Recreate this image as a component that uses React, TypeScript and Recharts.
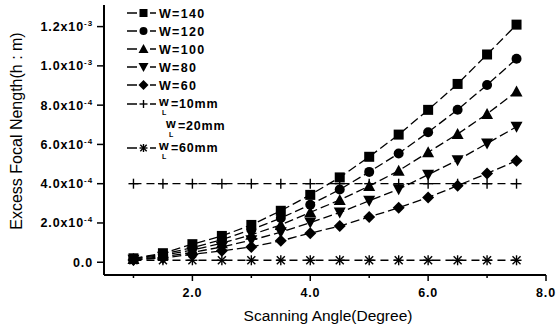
import React from 'react';
import { LineChart, Line, XAxis, YAxis } from 'recharts';

// scanning angle (degree)
const angles = [1, 1.5, 2, 2.5, 3, 3.5, 4, 4.5, 5, 5.5, 6, 6.5, 7, 7.5];

// excess focal length, in units of 1e-4
const w140 = [0.2, 0.46, 0.92, 1.34, 1.9, 2.62, 3.43, 4.32, 5.37, 6.5, 7.76, 9.08, 10.58, 12.1];
const w120 = [0.18, 0.41, 0.74, 1.15, 1.66, 2.25, 2.93, 3.7, 4.6, 5.54, 6.62, 7.77, 9.03, 10.36];
const w100 = [0.16, 0.35, 0.62, 0.97, 1.4, 1.9, 2.54, 3.17, 3.88, 4.66, 5.6, 6.53, 7.55, 8.7];
const w80 = [0.13, 0.28, 0.5, 0.78, 1.12, 1.53, 2.02, 2.53, 3.13, 3.72, 4.46, 5.2, 6.05, 6.9];
const w60 = [0.12, 0.22, 0.4, 0.58, 0.78, 1.09, 1.48, 1.84, 2.31, 2.77, 3.3, 3.9, 4.52, 5.17];
const wl10 = [4, 4, 4, 4, 4, 4, 4, 4, 4, 4, 4, 4, 4, 4];
const wl60 = [0.1, 0.1, 0.1, 0.1, 0.1, 0.1, 0.1, 0.1, 0.1, 0.1, 0.1, 0.1, 0.1, 0.1];

const xTicks = [1, 2, 3, 4, 5, 6, 7, 8];
const xTickLabels: Record<number, string> = { 2: '2.0', 4: '4.0', 6: '6.0', 8: '8.0' };
const yTicks = [0, 1, 2, 3, 4, 5, 6, 7, 8, 9, 10, 11, 12];
// mantissa, exponent
const yTickLabels: Record<number, [string, string]> = {
  0: ['0.0', ''],
  2: ['2.0x10', '-4'],
  4: ['4.0x10', '-4'],
  6: ['6.0x10', '-4'],
  8: ['8.0x10', '-4'],
  10: ['1.0x10', '-3'],
  12: ['1.2x10', '-3'],
};

const data = angles.map((x, i) => ({
  x,
  w140: w140[i],
  w120: w120[i],
  w100: w100[i],
  w80: w80[i],
  w60: w60[i],
  wl10: wl10[i],
  wl60: wl60[i],
}));

type Shape = 'square' | 'circle' | 'up' | 'down' | 'diamond' | 'plus' | 'star' | 'none';

const Marker = ({ cx, cy, shape, s = 5 }: { cx: number; cy: number; shape: Shape; s?: number }) => {
  switch (shape) {
    case 'square':
      return <rect x={cx - s} y={cy - s} width={2 * s} height={2 * s} fill="#000" />;
    case 'circle':
      return <circle cx={cx} cy={cy} r={s} fill="#000" />;
    case 'up':
      return <polygon points={`${cx},${cy - s - 1} ${cx + s + 1},${cy + s} ${cx - s - 1},${cy + s}`} fill="#000" />;
    case 'down':
      return <polygon points={`${cx},${cy + s + 1} ${cx + s + 1},${cy - s} ${cx - s - 1},${cy - s}`} fill="#000" />;
    case 'diamond':
      return <polygon points={`${cx},${cy - s - 1} ${cx + s + 1},${cy} ${cx},${cy + s + 1} ${cx - s - 1},${cy}`} fill="#000" />;
    case 'plus':
      return (
        <g stroke="#000" strokeWidth={1.4}>
          <line x1={cx - s} y1={cy} x2={cx + s} y2={cy} />
          <line x1={cx} y1={cy - s} x2={cx} y2={cy + s} />
        </g>
      );
    case 'star':
      return (
        <g stroke="#000" strokeWidth={1.4}>
          <line x1={cx - s} y1={cy} x2={cx + s} y2={cy} />
          <line x1={cx} y1={cy - s} x2={cx} y2={cy + s} />
          <line x1={cx - s * 0.8} y1={cy - s * 0.8} x2={cx + s * 0.8} y2={cy + s * 0.8} />
          <line x1={cx - s * 0.8} y1={cy + s * 0.8} x2={cx + s * 0.8} y2={cy - s * 0.8} />
        </g>
      );
    default:
      return null;
  }
};

const dotFor = (shape: Shape) => (props: any) => (
  <g key={`${shape}-${props.index}`}>
    <Marker cx={props.cx} cy={props.cy} shape={shape} />
  </g>
);

const XTick = ({ x, y, payload }: any) => {
  const v = payload.value;
  const label = xTickLabels[v];
  return (
    <g>
      <line x1={x} y1={y} x2={x} y2={y + (label ? 6 : 3)} stroke="#000" strokeWidth={1.5} />
      {label && (
        <text x={x} y={y + 22} textAnchor="middle" fontSize={12.5} fontWeight="bold" fill="#000" letterSpacing={0.8}>
          {label}
        </text>
      )}
    </g>
  );
};

const YTick = ({ x, y, payload }: any) => {
  const v = payload.value;
  const label = yTickLabels[v];
  return (
    <g>
      <line x1={x} y1={y} x2={x - (label ? 7 : 3)} y2={y} stroke="#000" strokeWidth={1.5} />
      {label && (
        <text x={x - 11} y={y + 4.5} textAnchor="end" fontSize={12.5} fontWeight="bold" fill="#000" letterSpacing={0.9}>
          {label[0]}
          {label[1] && (
            <tspan fontSize={8} dy={-5}>
              {label[1]}
            </tspan>
          )}
        </text>
      )}
    </g>
  );
};

const legendRows: { y: number; shape: Shape; name: string; sub?: string; rest?: string; line: boolean; textX?: number }[] = [
  { y: 13, shape: 'square', name: 'W=140', line: true },
  { y: 31, shape: 'circle', name: 'W=120', line: true },
  { y: 49, shape: 'up', name: 'W=100', line: true },
  { y: 67, shape: 'down', name: 'W=80', line: true },
  { y: 85, shape: 'diamond', name: 'W=60', line: true },
  { y: 104, shape: 'plus', name: 'w', sub: 'L', rest: '=10mm', line: true },
  { y: 126, shape: 'none', name: 'w', sub: 'L', rest: '=20mm', line: false, textX: 166 },
  { y: 148, shape: 'star', name: 'w', sub: 'L', rest: '=60mm', line: true },
];

const LegendBox = () => (
  <g>
    {legendRows.map((r, i) => (
      <g key={i}>
        {r.line && (
          <g stroke="#000" strokeWidth={1.5}>
            <line x1={127} y1={r.y} x2={137} y2={r.y} />
            <line x1={150} y1={r.y} x2={156} y2={r.y} />
          </g>
        )}
        <Marker cx={143.5} cy={r.y} shape={r.shape} s={4} />
        {r.sub ? (
          <g fontSize={12.5} fontWeight="bold" fill="#000">
            <text x={r.textX ?? 159} y={r.y + 2}>{r.name}</text>
            <text x={(r.textX ?? 159) + 3} y={r.y + 11} fontSize={7}>{r.sub}</text>
            <text x={(r.textX ?? 159) + 12} y={r.y + 4} letterSpacing={0.8}>{r.rest}</text>
          </g>
        ) : (
          <text x={159} y={r.y + 4.5} fontSize={12.5} fontWeight="bold" fill="#000" letterSpacing={1.3}>
            {r.name}
          </text>
        )}
      </g>
    ))}
  </g>
);

const series: { key: string; shape: Shape; dash: string }[] = [
  { key: 'w140', shape: 'square', dash: '9 4' },
  { key: 'w120', shape: 'circle', dash: '9 4' },
  { key: 'w100', shape: 'up', dash: '9 4' },
  { key: 'w80', shape: 'down', dash: '9 4' },
  { key: 'w60', shape: 'diamond', dash: '9 4' },
  { key: 'wl10', shape: 'plus', dash: '8 5' },
  { key: 'wl60', shape: 'star', dash: '8 5' },
];

export default function App() {
  return (
    <div style={{ position: 'absolute', left: 0, top: 0, fontFamily: '"Liberation Sans", Arial, sans-serif' }}>
      <LineChart width={556} height={326} data={data} margin={{ top: 5, right: 10, left: 0, bottom: 0 }}>
        <XAxis
          type="number"
          dataKey="x"
          domain={[0.5, 8]}
          ticks={xTicks}
          tick={<XTick />}
          tickLine={false}
          tickSize={0}
          tickMargin={0}
          height={51}
          axisLine={{ stroke: '#000', strokeWidth: 2 }}
          allowDataOverflow
        />
        <YAxis
          type="number"
          domain={[-0.65, 13.1]}
          ticks={yTicks}
          tick={<YTick />}
          tickLine={false}
          tickSize={0}
          tickMargin={0}
          width={104}
          axisLine={{ stroke: '#000', strokeWidth: 2 }}
          allowDataOverflow
        />
        {series.map(s => (
          <Line
            key={s.key}
            dataKey={s.key}
            stroke="#000"
            strokeWidth={1.3}
            strokeDasharray={s.dash}
            dot={dotFor(s.shape)}
            activeDot={false}
            legendType="none"
            isAnimationActive={false}
          />
        ))}
        <LegendBox />
        <text x={16} y={131} transform="rotate(-90 16 131)" textAnchor="middle" dominantBaseline="central" fontSize={16} fill="#000">
          Excess Focal Nength(h  : m)
        </text>
        <text x={328} y={321} textAnchor="middle" fontSize={15.5} fill="#000">
          Scanning Angle(Degree)
        </text>
      </LineChart>
    </div>
  );
}
